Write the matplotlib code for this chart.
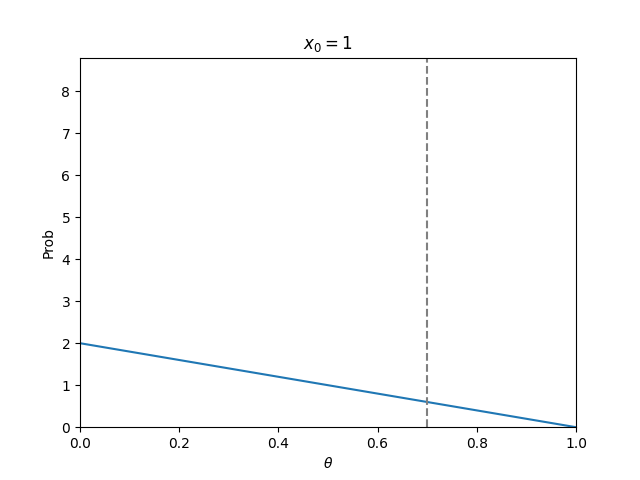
import matplotlib
matplotlib.use("Agg")
import matplotlib.pyplot as plt

# values
theta = [0.0, 1.0]
prob = [2.0, 0.0]
theta_true = 0.7

fig, ax = plt.subplots(figsize=(6.4, 4.8), dpi=100)
ax.plot(theta, prob)
ax.axvline(theta_true, color="gray", linestyle="--")
ax.set_xlim(0, 1)
ax.set_ylim(0, 8.8)
ax.set_xlabel(r"$\theta$")
ax.set_ylabel("Prob")
ax.set_title(r"$x_0 = 1$")
fig.savefig("out.png")
